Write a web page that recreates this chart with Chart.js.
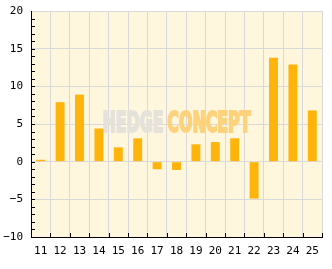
<!DOCTYPE html>
<html>
<head>
<meta charset="utf-8">
<script src="https://cdn.jsdelivr.net/npm/chart.js@4/dist/chart.umd.min.js"></script>
<style>
  html, body { margin: 0; padding: 0; background: #fff; }
  #wrap { width: 332px; height: 269px; }
</style>
</head>
<body>
<div id="wrap"><canvas id="chart" width="332" height="269"></canvas></div>
<script>
const categories = ['11', '12', '13', '14', '15', '16', '17', '18', '19', '20', '21', '22', '23', '24', '25'];
const values = [0.25, 7.9, 8.9, 4.4, 1.9, 3.1, -1.0, -1.1, 2.3, 2.6, 3.1, -4.9, 13.8, 12.9, 6.8];
const yMin = -10, yMax = 20, yStep = 5;

// cream plot background + inward ticks + watermark
const decor = {
    id: 'decor',
    beforeDraw(chart) {
        const a = chart.chartArea, c = chart.ctx;
        c.save();
        c.fillStyle = '#fff6de';
        c.fillRect(a.left, a.top, a.right - a.left, a.bottom - a.top);
        c.restore();
    },
    beforeDatasetsDraw(chart) {
        const a = chart.chartArea, c = chart.ctx;
        c.save();
        c.font = 'bold 28px "DejaVu Sans Condensed", "Liberation Sans Narrow", sans-serif';
        c.textBaseline = 'middle';
        const w1 = c.measureText('HEDGE').width;
        const w2 = c.measureText('CONCEPT').width;
        const gap = 6;
        const total = w1 + gap + w2;
        const sx = 148 / total;
        const cx = (a.left + a.right) / 2, cy = (a.top + a.bottom) / 2 + 1;
        c.translate(cx - 74, cy);
        c.scale(sx, 1);
        c.lineWidth = 2;
        c.lineJoin = 'miter';
        c.fillStyle = c.strokeStyle = '#e5e2dc';
        c.fillText('HEDGE', 0, 0);
        c.strokeText('HEDGE', 0, 0);
        c.fillStyle = c.strokeStyle = '#fdd27c';
        c.fillText('CONCEPT', w1 + gap, 0);
        c.strokeText('CONCEPT', w1 + gap, 0);
        c.restore();
    },
    afterDraw(chart) {
        const c = chart.ctx, a = chart.chartArea;
        const y = chart.scales.y, x = chart.scales.x;
        c.save();
        c.strokeStyle = '#000';
        c.lineWidth = 1;
        c.beginPath();
        for (let v = yMin + 1; v < yMax; v++) {
            const py = Math.round(y.getPixelForValue(v)) + 0.5;
            c.moveTo(a.left, py);
            c.lineTo(a.left + 4, py);
        }
        for (let i = 0; i <= categories.length; i++) {
            const px = Math.round(x.getPixelForValue(i - 0.5)) + 0.5;
            c.moveTo(px, a.bottom);
            c.lineTo(px, a.bottom - 4);
        }
        c.stroke();
        c.restore();
    }
};

const ctx = document.getElementById('chart').getContext('2d');

const chart = new Chart(ctx, {
    type: 'bar',
    data: {
        labels: categories,
        datasets: [{
            data: values,
            backgroundColor: '#ffb40c',
            borderWidth: 0,
            barPercentage: 0.46,
            categoryPercentage: 1
        }]
    },
    options: {
        responsive: false,
        animation: false,
        layout: { padding: { top: 11, right: 10, left: 0, bottom: 0 } },
        plugins: {
            legend: { display: false },
            tooltip: { enabled: false }
        },
        scales: {
            x: {
                grid: { color: '#d9d9d9', drawTicks: false, offset: true },
                border: { color: '#000', width: 1 },
                ticks: {
                    color: '#000',
                    padding: 8,
                    maxRotation: 0,
                    font: { family: '"DejaVu Sans Mono", monospace', size: 11 }
                },
                afterFit(scale) { scale.height = 32; scale.paddingLeft = 0; scale.paddingRight = 0; }
            },
            y: {
                min: yMin,
                max: yMax,
                grid: { color: '#d9d9d9', drawTicks: false },
                border: { color: '#000', width: 1 },
                ticks: {
                    stepSize: yStep,
                    color: '#000',
                    padding: 8,
                    font: { family: '"DejaVu Sans Mono", monospace', size: 11 },
                    callback: v => String(v).replace('-', '\u2212')
                },
                afterFit(scale) { scale.width = 31; scale.paddingTop = 0; scale.paddingBottom = 0; }
            }
        }
    },
    plugins: [decor]
});
</script>
</body>
</html>
